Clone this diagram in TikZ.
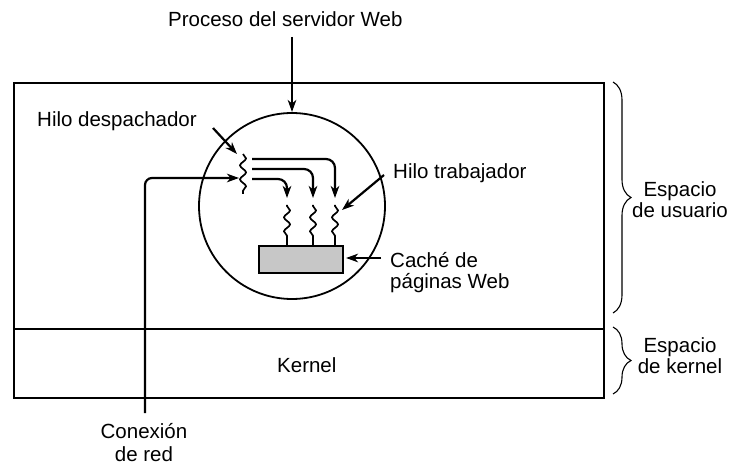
\documentclass[tikz,border=0pt]{standalone}
\usepackage{fontspec}
\setmainfont{Liberation Sans}
\usetikzlibrary{arrows.meta,decorations.pathmorphing,decorations.pathreplacing}
\begin{document}
\begin{tikzpicture}[x=1pt,y=-1pt,
  lbl/.style={inner sep=0pt,font=\fontsize{20.5}{24}\selectfont},
  box/.style={draw,line width=1.9pt},
  arr/.style={line width=2.2pt,-{Stealth[length=12pt,width=8.5pt,inset=3.5pt]}},
  wav/.style={line width=1.7pt,decorate,decoration={snake,segment length=14pt,amplitude=3pt,pre length=1pt,post length=6pt}},
  brc/.style={line width=1.1pt,decorate,decoration={brace,amplitude=18pt}}]
\useasboundingbox (0,0) rectangle (731,465);
% boxes
\node[box,minimum width=590pt,minimum height=246pt,inner sep=0pt,anchor=north west] (user) at (13,82) {};
\node[box,minimum width=590pt,minimum height=69pt,inner sep=0pt,anchor=north west] (kern) at (13,328) {};
\node[lbl,anchor=base west] (kerntxt) at (277,372) {Kernel};
% process circle
\node[draw,circle,line width=1.8pt,minimum size=186pt,inner sep=0pt] (proc) at (292,206) {};
% cache
\node[draw,line width=1.6pt,fill=black!22,minimum width=84pt,minimum height=27pt,inner sep=0pt,anchor=north west] (cache) at (258,245) {};
% dispatcher thread
\coordinate (dtop) at (243,154);
\coordinate (dbot) at (243,194);
\draw[line width=1.7pt,decorate,decoration={snake,segment length=14pt,amplitude=3pt}] (dtop) -- (dbot);
% worker threads
\coordinate (w1t) at (287,205); \coordinate (w1b) at (287,245);
\coordinate (w2t) at (313,205); \coordinate (w2b) at (313,245);
\coordinate (w3t) at (335,205); \coordinate (w3b) at (335,245);
\draw[wav] (w1t) -- (w1b);
\draw[wav] (w2t) -- (w2b);
\draw[wav] (w3t) -- (w3b);
% dispatch arrows
\coordinate (a1) at (252,159); \coordinate (a1e) at (335,198);
\coordinate (a2) at (252,169); \coordinate (a2e) at (313,198);
\coordinate (a3) at (252,179); \coordinate (a3e) at (287,198);
\draw[arr,rounded corners=9pt] (a1) -| (a1e);
\draw[arr,rounded corners=9pt] (a2) -| (a2e);
\draw[arr,rounded corners=9pt] (a3) -| (a3e);
% network connection
\coordinate (net) at (145,413);
\coordinate (netend) at (239,178);
\draw[arr,rounded corners=7pt] (net) |- (netend);
\node[lbl,anchor=base] (con1) at (144,438) {Conexión};
\node[lbl,anchor=base] (con2) at (144,461) {de red};
% process label
\node[lbl,anchor=base west] (proctxt) at (168,27) {Proceso del servidor Web};
\coordinate (p0) at (292,37);
\coordinate (p1) at (292,112);
\draw[arr] (p0) -- (p1);
% dispatcher label
\node[lbl,anchor=base west] (disptxt) at (37,127) {Hilo despachador};
\coordinate (d0) at (213,128);
\coordinate (d1) at (237,154);
\draw[arr] (d0) -- (d1);
% worker label
\node[lbl,anchor=base west] (worktxt) at (393,179) {Hilo trabajador};
\coordinate (k0) at (384,175);
\coordinate (k1) at (342,210);
\draw[arr] (k0) -- (k1);
% cache label
\node[lbl,anchor=base west] (cachetxt1) at (390,267) {Caché de};
\node[lbl,anchor=base west] (cachetxt2) at (390,288) {páginas Web};
\coordinate (c0) at (381,258);
\coordinate (c1) at (346,258);
\draw[arr] (c0) -- (c1);
% braces
\draw[brc] (613,82) -- (613,313);
\node[lbl,anchor=base] (us1) at (680,197) {Espacio};
\node[lbl,anchor=base] (us2) at (680,218) {de usuario};
\draw[brc] (613,327) -- (613,394);
\node[lbl,anchor=base] (ks1) at (680,352) {Espacio};
\node[lbl,anchor=base] (ks2) at (680,373) {de kernel};
\end{tikzpicture}
\end{document}
